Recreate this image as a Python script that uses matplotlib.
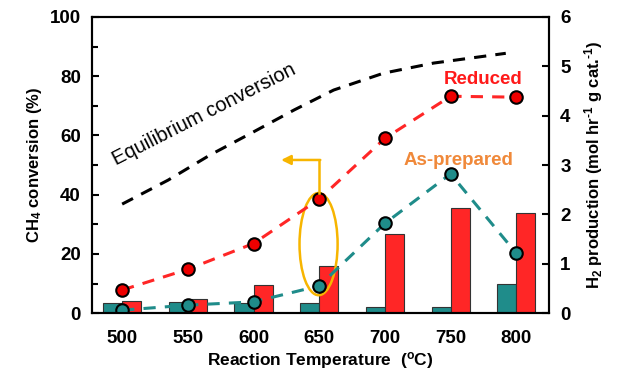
import matplotlib.pyplot as plt
from matplotlib.patches import Ellipse
from matplotlib.ticker import MultipleLocator

plt.rcParams['font.family'] = ['Liberation Sans', 'DejaVu Sans']
plt.rcParams['font.weight'] = 'bold'
plt.rcParams['mathtext.fontset'] = 'custom'
plt.rcParams['mathtext.rm'] = 'Liberation Sans:bold'
plt.rcParams['mathtext.bf'] = 'Liberation Sans:bold'
plt.rcParams['mathtext.default'] = 'bf'

temps = [500, 550, 600, 650, 700, 750, 800]
reduced_conv = [7.8, 14.8, 23.5, 38.5, 59.0, 73.2, 72.9]
asprep_conv = [1.0, 2.7, 3.8, 9.2, 30.3, 47.0, 20.2]
asprep_h2 = [0.20, 0.23, 0.20, 0.20, 0.12, 0.12, 0.59]
reduced_h2 = [0.25, 0.28, 0.57, 0.96, 1.60, 2.12, 2.02]
eq_temps = [500, 535, 567, 598, 631, 661, 699, 737, 792]
eq_conv = [36.8, 44.9, 53.4, 60.7, 68.6, 75.3, 81.0, 84.4, 87.7]

red = '#ff2626'
teal = '#1f8c8a'

fig = plt.figure(figsize=(6.17, 3.75), dpi=100)
ax = fig.add_axes([0.149, 0.165, 0.741, 0.79])
ax2 = ax.twinx()
ax.set_zorder(ax2.get_zorder() + 1)
ax.patch.set_visible(False)

# H2 production bars on the right axis
w = 14.5
ax2.bar([t - w / 2 for t in temps], asprep_h2, width=w, color=teal,
        edgecolor='#333333', linewidth=0.8)
ax2.bar([t + w / 2 for t in temps], reduced_h2, width=w, color=red,
        edgecolor='#333333', linewidth=0.8)
ax2.set_ylim(0, 6)
ax2.yaxis.set_major_locator(MultipleLocator(1))

# conversion curves on the left axis
ax.plot(eq_temps, eq_conv, '--', color='black', lw=2.2, dashes=(4, 3))
ax.plot(temps, reduced_conv, '--', color=red, lw=2.2, dashes=(4, 3),
        marker='o', ms=9, mfc='#ee0000', mec='black', mew=1.5)
ax.plot(temps, asprep_conv, '--', color=teal, lw=2.2, dashes=(4, 3),
        marker='o', ms=9, mfc=teal, mec='black', mew=1.5)

ax.set_xlim(477, 825)
ax.set_ylim(0, 100)
ax.set_xticks(temps)
ax.yaxis.set_major_locator(MultipleLocator(20))
ax.yaxis.set_minor_locator(MultipleLocator(10))

ax.text(562, 67, 'Equilibrium conversion', rotation=27, fontsize=14.5,
        fontweight='normal', ha='center', va='center')
ax.text(775, 79, 'Reduced', color='#ff1a1a', fontsize=13.5,
        ha='center', va='center')
ax.text(756, 51.5, 'As-prepared', color='#f0893a', fontsize=13.5,
        ha='center', va='center')

gold = '#f7b500'
ax.add_patch(Ellipse((649.5, 23.3), 29, 34.5, fill=False,
                     edgecolor=gold, lw=1.8))
ax.plot([650, 650], [40.5, 51.7], color=gold, lw=1.8)
ax.annotate('', xy=(621, 51.7), xytext=(650.8, 51.7),
            arrowprops=dict(arrowstyle='-|>', color=gold, lw=1.8,
                            mutation_scale=14, shrinkA=0, shrinkB=0))

for a in (ax, ax2):
    for s in a.spines.values():
        s.set_linewidth(1.5)
    a.tick_params(direction='in', labelsize=13.5, width=1.5, length=5)
ax.tick_params(which='minor', direction='in', width=1.5, length=4)
ax.tick_params(axis='x', length=0, pad=12)
ax.tick_params(axis='y', pad=8)
ax2.tick_params(axis='y', pad=8)

ax.set_xlabel('Reaction Temperature  ($^{o}$C)', fontsize=12.5,
              fontweight='bold', labelpad=2)
ax.set_ylabel('CH$_{4}$ conversion (%)', fontsize=12, fontweight='bold')
ax2.set_ylabel('H$_{2}$ production (mol hr$^{\\text{-1}}$ g cat.$^{\\text{-1}}$)',
               fontsize=12, fontweight='bold', labelpad=8)

fig.savefig('out.png', dpi=100)
